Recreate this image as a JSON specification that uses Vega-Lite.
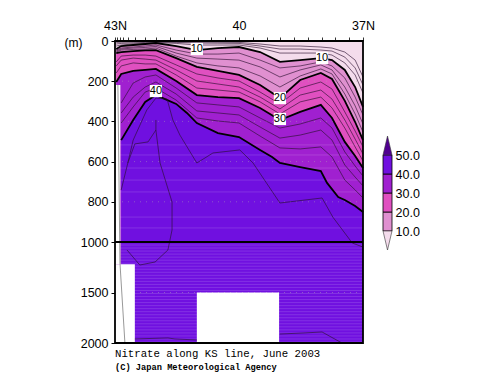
{
"$schema":"https://vega.github.io/schema/vega-lite/v6.json",
"background":"white",
"padding":{"left":64,"top":19,"right":0,"bottom":0},
"spacing":6,
"config":{"view":{"stroke":null},"font":"Liberation Sans"},
"datasets":{
"grid":[
{"lat":42.97,"c2":7,"c5":15,"c7":25,"c10":40,"c12":45,"c15":50,"c17":55,"c20":60,"c22":104,"c25":124,"c27":159,"c30":204},
{"lat":42.85,"c2":6,"c5":12,"c7":20,"c10":25,"c12":35,"c15":40,"c17":45,"c20":55,"c22":75,"c25":95,"c27":124,"c30":164,"c32":308,"c35":358,"c37":408,"c40":493},
{"lat":42.56,"c2":5,"c5":10,"c7":15,"c10":20,"c12":30,"c15":35,"c17":42,"c20":50,"c22":70,"c25":85,"c27":109,"c30":149,"c32":209,"c35":279,"c37":328,"c40":393},
{"lat":42.27,"c2":4,"c5":7,"c7":12,"c10":15,"c12":25,"c15":32,"c17":40,"c20":47,"c22":70,"c25":90,"c27":114,"c30":144,"c32":179,"c35":229,"c37":254,"c40":303},
{"lat":42.01,"c2":2,"c5":5,"c7":7,"c10":10,"c12":20,"c15":27,"c17":35,"c20":45,"c22":75,"c25":95,"c27":114,"c30":139,"c32":169,"c35":204,"c37":234,"c40":269},
{"lat":41.52,"c2":4,"c5":7,"c7":12,"c10":25,"c12":45,"c15":60,"c17":75,"c20":85,"c22":119,"c25":144,"c27":169,"c30":199,"c32":234,"c35":264,"c37":294,"c40":313},
{"lat":41.26,"c40":358},
{"lat":41.02,"c2":5,"c5":10,"c7":20,"c10":45,"c12":65,"c15":85,"c17":109,"c20":129,"c22":164,"c25":199,"c27":234,"c30":269,"c32":308,"c35":348,"c37":383,"c40":408},
{"lat":40.51,"c2":6,"c5":11,"c7":20,"c10":35,"c12":65,"c15":90,"c17":124,"c20":149,"c22":184,"c25":214,"c27":244,"c30":279,"c32":318,"c35":358,"c37":398,"c40":458},
{"lat":40.0,"c2":7,"c5":12,"c7":20,"c10":30,"c12":60,"c15":95,"c17":134,"c20":169,"c22":199,"c25":229,"c27":254,"c30":284,"c32":328,"c35":368,"c37":408,"c40":478},
{"lat":39.49,"c2":15,"c5":25,"c7":35,"c10":55,"c12":95,"c15":129,"c17":174,"c20":219,"c22":254,"c25":279,"c27":303,"c30":333,"c32":383,"c35":428,"c37":473,"c40":542},
{"lat":39.2,"c40":577},
{"lat":39.01,"c2":25,"c5":40,"c7":60,"c10":104,"c12":134,"c15":179,"c17":229,"c20":284,"c22":313,"c25":338,"c27":363,"c30":393,"c32":433,"c35":483,"c37":532,"c40":607},
{"lat":38.52,"c2":25,"c5":40,"c7":60,"c10":95,"c12":124,"c15":144,"c17":174,"c20":194,"c22":234,"c25":269,"c27":303,"c30":353,"c32":413,"c35":468,"c37":537,"c40":627},
{"lat":38.02,"c2":30,"c5":45,"c7":60,"c10":85,"c12":104,"c15":119,"c17":139,"c20":159,"c22":204,"c25":244,"c27":279,"c30":318,"c32":383,"c35":443,"c37":527,"c40":647},
{"lat":37.87,"c40":706},
{"lat":37.75,"c2":35,"c5":50,"c7":70,"c10":95,"c12":124,"c15":144,"c17":164,"c20":189,"c22":239,"c25":289,"c27":333,"c30":383,"c32":433,"c35":493,"c37":577},
{"lat":37.6,"c40":776},
{"lat":37.44,"c2":55,"c5":80,"c7":109,"c10":144,"c12":184,"c15":229,"c17":264,"c20":298,"c22":353,"c25":393,"c27":433,"c30":502,"c32":552,"c35":617,"c37":692,"c40":791},
{"lat":37.19,"c2":95,"c5":134,"c7":169,"c10":229,"c12":279,"c15":323,"c17":363,"c20":403,"c22":448,"c25":488,"c27":527,"c30":572,"c32":622,"c35":677,"c37":741,"c40":821},
{"lat":37.0,"c2":179,"c5":219,"c7":259,"c10":328,"c12":368,"c15":413,"c17":453,"c20":493,"c22":527,"c25":562,"c27":597,"c30":632,"c32":672,"c35":721,"c37":781,"c40":851}
],
"deep":[
{"id":"a","n":1,"lat":42.69,"depth":607},{"id":"a","n":2,"lat":42.56,"depth":493},{"id":"a","n":3,"lat":42.23,"depth":343},{"id":"a","n":4,"lat":42.01,"depth":284},{"id":"a","n":5,"lat":41.74,"depth":289},{"id":"a","n":6,"lat":41.6,"depth":393},{"id":"a","n":7,"lat":41.43,"depth":468},{"id":"a","n":8,"lat":41.02,"depth":607},{"id":"a","n":9,"lat":40.63,"depth":557},{"id":"a","n":10,"lat":39.98,"depth":542},{"id":"a","n":11,"lat":39.66,"depth":607},{"id":"a","n":12,"lat":39.01,"depth":806},{"id":"a","n":13,"lat":37.99,"depth":781},{"id":"a","n":14,"lat":37.73,"depth":876},{"id":"a","n":15,"lat":37.26,"depth":1010},{"id":"a","n":16,"lat":37.0,"depth":1050},
{"id":"b","n":1,"lat":42.85,"depth":741},{"id":"b","n":2,"lat":42.69,"depth":607},{"id":"b","n":3,"lat":42.52,"depth":512},{"id":"b","n":4,"lat":42.2,"depth":502},{"id":"b","n":5,"lat":42.01,"depth":443},
{"id":"c","n":1,"lat":42.01,"depth":393},{"id":"c","n":2,"lat":42.01,"depth":443},{"id":"c","n":3,"lat":41.91,"depth":607},{"id":"c","n":4,"lat":41.62,"depth":801},{"id":"c","n":5,"lat":41.62,"depth":940},{"id":"c","n":6,"lat":41.72,"depth":1079},{"id":"c","n":7,"lat":42.03,"depth":1198},{"id":"c","n":8,"lat":42.4,"depth":1228},{"id":"c","n":9,"lat":42.71,"depth":1079},
{"id":"d","n":1,"lat":42.52,"depth":1960},{"id":"d","n":2,"lat":41.72,"depth":1950},{"id":"d","n":3,"lat":41.55,"depth":1960},{"id":"d","n":4,"lat":41.02,"depth":1970},
{"id":"e","n":1,"lat":39.01,"depth":1911},{"id":"e","n":2,"lat":38.45,"depth":1901},{"id":"e","n":3,"lat":37.99,"depth":1891},{"id":"e","n":4,"lat":37.51,"depth":2000}
],
"edge":[{"id":"f","n":1,"lat":42.93,"depth":219},{"id":"f","n":2,"lat":42.88,"depth":1208},{"id":"f","n":3,"lat":42.76,"depth":2000}],
"stripes":[{"depth":517},{"depth":567},{"depth":632},{"depth":692},{"depth":751},{"depth":876},{"depth":930},{"depth":1030},{"depth":1060},{"depth":1090},{"depth":1120},{"depth":1150},{"depth":1180},{"depth":1210},{"depth":1240},{"depth":1270},{"depth":1300},{"depth":1330},{"depth":1360},{"depth":1390},{"depth":1420},{"depth":1450},{"depth":1480},{"depth":1510},{"depth":1540},{"depth":1570},{"depth":1600},{"depth":1630},{"depth":1660},{"depth":1690},{"depth":1720},{"depth":1750},{"depth":1780},{"depth":1810},{"depth":1840},{"depth":1870},{"depth":1900},{"depth":1930},{"depth":1960},{"depth":1990}],
"masks":[{"a":43,"b":42.87,"t":219,"u":1220},{"a":43,"b":42.52,"t":1220,"u":2000},{"a":41.02,"b":39.03,"t":1500,"u":2000}],
"labels":[{"t":"10","lat":41.02,"depth":40},{"t":"10","lat":37.99,"depth":85},{"t":"20","lat":39.01,"depth":284},{"t":"30","lat":39.01,"depth":388},{"t":"40","lat":42.01,"depth":249}],
"bands":[{"v0":10,"v1":20,"c":"#e090d0"},{"v0":20,"v1":30,"c":"#e050c0"},{"v0":30,"v1":40,"c":"#a020d0"},{"v0":40,"v1":50,"c":"#7010e0"}],
"tris":[{"k":"top","v":60,"a":0.5,"b":0.5,"c":"#500090"},{"k":"top","v":50,"a":0,"b":1,"c":"#500090"},{"k":"low","v":10,"a":0,"b":1,"c":"#f4dcec"},{"k":"low","v":0,"a":0.5,"b":0.5,"c":"#f4dcec"}]
},
"hconcat":[
{
"width":248,"height":302,
"title":{"text":"Nitrate along KS line, June 2003","subtitle":"(C) Japan Meteorological Agency","orient":"bottom","anchor":"start","font":"Liberation Mono","fontSize":10.7,"fontWeight":"normal","color":"black","subtitleFont":"Liberation Mono","subtitleFontSize":8.7,"subtitleFontWeight":"bold","subtitleColor":"black","offset":0,"dx":51,"dy":-1,"subtitlePadding":4},
"resolve":{"axis":{"x":"independent"}},
"layer":[
{"data":{"values":[{"a":43,"b":37,"t":0,"u":2000}]},"mark":{"type":"rect","fill":"#f4dcec"},
"encoding":{"x":{"field":"a","type":"quantitative","scale":{"domain":[37,43],"reverse":true},
"axis":{"orient":"top","title":null,"grid":false,"domain":false,"ticks":false,"values":[43,40,37],
"labelExpr":"datum.value==43?'43N':datum.value==40?'40':'37N'","labelFontSize":12.5,"labelPadding":9,"labelOverlap":false,"labelFlush":false}},
"x2":{"field":"b"},
"y":{"field":"t","type":"quantitative","scale":{"domain":[0,1000,2000],"range":[0,201,302]},
"axis":{"orient":"left","title":"(m)","titleAngle":0,"titleFontSize":12,"titleFontWeight":"normal","titleX":-42,"titleY":8,"grid":false,"domain":false,"values":[0,200,400,600,800,1000,1500,2000],"format":"d","labelFontSize":12.5,"labelPadding":3,"tickColor":"black","tickSize":4}},
"y2":{"field":"u"}}},
{"data":{"name":"grid"},"transform":[{"fold":["c10","c20","c30","c40"],"as":["level","depth"]},{"filter":"isValid(datum.depth)"}],
"mark":{"type":"area","line":false},
"encoding":{"x":{"field":"lat","type":"quantitative","axis":{"orient":"top","title":null,"grid":false,"domain":false,"labels":false,"values":[43,42.95,42.88,42.81,42.69,42.52,42.27,42,41.67,41.33,41,40.67,40.33,40,39.67,39.33,39,38.67,38.33,38,37.67,37.33,37],"tickColor":"#333","tickSize":4}},"y":{"field":"depth","type":"quantitative"},"y2":{"datum":2000},
"color":{"field":"level","type":"nominal","legend":null,"scale":{"domain":["c10","c20","c30","c40"],"range":["#e090d0","#e050c0","#a020d0","#7010e0"]}}}},
{"data":{"name":"stripes"},"mark":{"type":"rule","color":"white","opacity":0.14,"strokeWidth":1},"encoding":{"y":{"field":"depth","type":"quantitative"}}},
{"data":{"values":[{"depth":200},{"depth":400},{"depth":600},{"depth":800},{"depth":1500}]},"mark":{"type":"rule","color":"#b0b0b0","opacity":0.45,"strokeDash":[1,5],"strokeWidth":1},"encoding":{"y":{"field":"depth","type":"quantitative"}}},
{"data":{"name":"masks"},"mark":{"type":"rect","fill":"white"},"encoding":{"x":{"field":"a","type":"quantitative","axis":null},"x2":{"field":"b"},"y":{"field":"t","type":"quantitative"},"y2":{"field":"u"}}},
{"data":{"name":"grid"},"transform":[{"fold":["c2","c5","c7","c12","c15","c17","c22","c25","c27","c32","c35","c37"],"as":["level","depth"]},{"filter":"isValid(datum.depth)"}],
"mark":{"type":"line","color":"#2a1030","strokeWidth":0.75,"opacity":0.85},
"encoding":{"x":{"field":"lat","type":"quantitative","axis":null},"y":{"field":"depth","type":"quantitative"},"detail":{"field":"level"}}},
{"data":{"name":"grid"},"transform":[{"fold":["c10","c20","c30","c40"],"as":["level","depth"]},{"filter":"isValid(datum.depth)"}],
"mark":{"type":"line","color":"black","strokeWidth":1.8},
"encoding":{"x":{"field":"lat","type":"quantitative","axis":null},"y":{"field":"depth","type":"quantitative"},"detail":{"field":"level"}}},
{"data":{"name":"deep"},"mark":{"type":"line","color":"#2a1030","strokeWidth":0.75,"opacity":0.85},
"encoding":{"x":{"field":"lat","type":"quantitative","axis":null},"y":{"field":"depth","type":"quantitative"},"detail":{"field":"id"},"order":{"field":"n"}}},
{"data":{"name":"edge"},"mark":{"type":"line","color":"#999999","strokeWidth":1},
"encoding":{"x":{"field":"lat","type":"quantitative","axis":null},"y":{"field":"depth","type":"quantitative"},"detail":{"field":"id"},"order":{"field":"n"}}},
{"data":{"values":[{"depth":1000}]},"mark":{"type":"rule","color":"black","strokeWidth":2},"encoding":{"y":{"field":"depth","type":"quantitative"}}},
{"data":{"values":[{"a":43,"b":37,"t":0,"u":2000}]},"mark":{"type":"rect","fill":null,"stroke":"black","strokeWidth":1.8},
"encoding":{"x":{"field":"a","type":"quantitative","axis":null},"x2":{"field":"b"},"y":{"field":"t","type":"quantitative"},"y2":{"field":"u"}}},
{"data":{"name":"labels"},"mark":{"type":"point","shape":"square","filled":true,"color":"white","opacity":1,"size":150},
"encoding":{"x":{"field":"lat","type":"quantitative","axis":null},"y":{"field":"depth","type":"quantitative"}}},
{"data":{"name":"labels"},"mark":{"type":"text","fontSize":11,"color":"black","baseline":"middle"},
"encoding":{"x":{"field":"lat","type":"quantitative","axis":null},"y":{"field":"depth","type":"quantitative"},"text":{"field":"t"}}}
]
},
{
"width":9,"height":302,
"layer":[
{"data":{"name":"bands"},"mark":{"type":"rect","stroke":"black","strokeWidth":0.8},
"encoding":{"x":{"datum":0,"type":"quantitative","scale":{"domain":[0,1]},"axis":null},"x2":{"datum":1},
"y":{"field":"v0","type":"quantitative","scale":{"domain":[0,60],"range":[209,95]},
"axis":{"orient":"right","title":null,"grid":false,"domain":false,"ticks":false,"values":[10,20,30,40,50],"format":".1f","labelFontSize":12.5,"labelPadding":3}},
"y2":{"field":"v1"},
"fill":{"field":"c","type":"nominal","scale":null}}},
{"data":{"name":"tris"},"mark":{"type":"area","orient":"horizontal","stroke":"#333","strokeWidth":0.6},
"encoding":{"y":{"field":"v","type":"quantitative"},"x":{"field":"a","type":"quantitative"},"x2":{"field":"b"},"detail":{"field":"k"},
"fill":{"field":"c","type":"nominal","scale":null}}}
]
}
]
}
